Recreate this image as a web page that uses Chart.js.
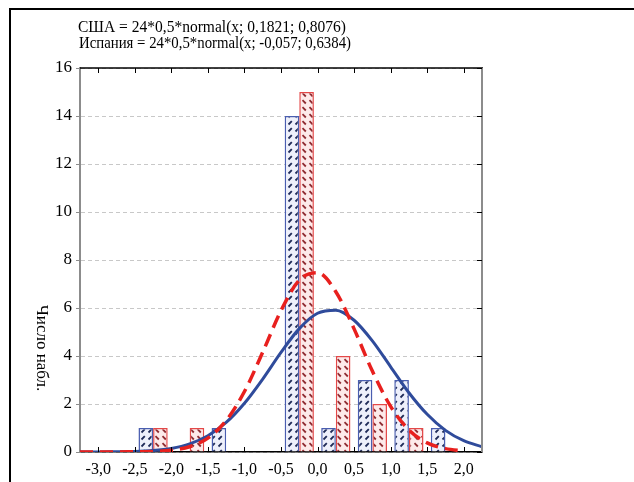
<!DOCTYPE html>
<html>
<head>
<meta charset="utf-8">
<script src="https://cdn.jsdelivr.net/npm/chart.js@4.4.0/dist/chart.umd.min.js"></script>
<style>
  html, body { margin: 0; padding: 0; background: #fff; }
  #wrap { width: 634px; height: 482px; position: relative; }
</style>
</head>
<body>
<div id="wrap"><canvas id="grafica" width="634" height="482"></canvas></div>
<script>
// Гистограмма (центры интервалов) и число наблюдений
const centros = [-2.25, -1.75, -1.25, -0.75, -0.25, 0.25, 0.75, 1.25, 1.75];
const usaBarras = [1, 0, 1, 0, 14, 1, 3, 3, 1];
const espBarras = [1, 1, 0, 0, 15, 4, 2, 1, 0];

// Кривые
const curvaX = [-3.25, -3.0, -2.75, -2.5, -2.25, -2.0, -1.75, -1.5, -1.25, -1.0, -0.75, -0.5, -0.25, 0, 0.25, 0.5, 0.75, 1.0, 1.25, 1.5, 1.75, 2.0, 2.25];
const usaCurva = [0, 0, 0.01, 0.02, 0.06, 0.15, 0.34, 0.68, 1.23, 2.03, 3.04, 4.15, 5.14, 5.78, 5.91, 5.49, 4.63, 3.55, 2.47, 1.57, 0.9, 0.47, 0.22];
const espCurva = [0, 0, 0, 0.01, 0.02, 0.07, 0.22, 0.58, 1.31, 2.52, 4.16, 5.89, 7.16, 7.47, 6.68, 5.13, 3.37, 1.9, 0.92, 0.38, 0.14, 0.04, null];

const xTicks = [-3.0, -2.5, -2.0, -1.5, -1.0, -0.5, 0.0, 0.5, 1.0, 1.5, 2.0];
const titulo = ['США = 24*0,5*normal(x; 0,1821; 0,8076)', 'Испания = 24*0,5*normal(x; -0,057; 0,6384)'];
const ejeY = 'Число набл.';

const serif = "'Liberation Serif', 'Times New Roman', serif";

function rayado(fondo, tinta, dir) {
    const c = document.createElement('canvas');
    c.width = 7; c.height = 7;
    const g = c.getContext('2d');
    g.fillStyle = fondo;
    g.fillRect(0, 0, 7, 7);
    g.strokeStyle = tinta;
    g.lineWidth = 1.8;
    g.beginPath();
    if (dir > 0) { g.moveTo(1.5, 5.5); g.lineTo(4.8, 2.2); }
    else { g.moveTo(1.5, 2.2); g.lineTo(4.8, 5.5); }
    g.stroke();
    return g.createPattern(c, 'repeat');
}

const par = (xs, ys) => xs.map((x, i) => ({ x: x, y: ys[i] }));

// Рамка, засечки, заголовок и подпись оси
const extras = {
    id: 'extras',
    afterDraw(chart) {
        const ctx = chart.ctx;
        const a = chart.chartArea;
        const sx = chart.scales.x, sy = chart.scales.y;
        ctx.save();
        // внешняя рамка
        ctx.strokeStyle = '#000';
        ctx.lineWidth = 2;
        ctx.strokeRect(10, 9, 700, 600);
        // верхняя граница
        ctx.lineWidth = 1.5;
        ctx.beginPath();
        ctx.moveTo(a.left, a.top); ctx.lineTo(a.right + 1, a.top);
        ctx.stroke();
        // правая граница
        ctx.strokeStyle = '#8c8c8c';
        ctx.lineWidth = 2;
        ctx.beginPath();
        ctx.moveTo(a.right, a.top); ctx.lineTo(a.right, a.bottom);
        ctx.stroke();
        // засечки
        ctx.strokeStyle = '#000';
        ctx.lineWidth = 1;
        xTicks.forEach(v => {
            const px = Math.round(sx.getPixelForValue(v)) + 0.5;
            ctx.beginPath();
            ctx.moveTo(px, a.top); ctx.lineTo(px, a.top + 5);
            ctx.moveTo(px, a.bottom); ctx.lineTo(px, a.bottom - 5);
            ctx.stroke();
        });
        sy.ticks.forEach(t => {
            const py = Math.round(sy.getPixelForValue(t.value)) + 0.5;
            ctx.beginPath();
            ctx.moveTo(a.right, py); ctx.lineTo(a.right - 5, py);
            ctx.stroke();
        });
        // заголовок
        ctx.fillStyle = '#000';
        ctx.font = '16px ' + serif;
        ctx.textAlign = 'center';
        ctx.textBaseline = 'alphabetic';
        ctx.fillText(titulo[0], 212, 32, 268);
        ctx.fillText(titulo[1], 215, 48, 272);
        // подпись оси Y
        ctx.font = '17px ' + serif;
        ctx.translate(41, 348);
        ctx.rotate(Math.PI / 2);
        ctx.textBaseline = 'middle';
        ctx.fillText(ejeY, 0, 0);
        ctx.restore();
    }
};

const ctx = document.getElementById('grafica').getContext('2d');

new Chart(ctx, {
    type: 'bar',
    data: {
        datasets: [
            {
                label: 'США',
                data: par(centros, usaBarras),
                backgroundColor: rayado('#eef0fb', '#1f2b58', 1),
                borderColor: '#4a5eb0',
                borderWidth: 1.5,
                categoryPercentage: 0.8,
                barPercentage: 1.0,
                order: 3
            },
            {
                label: 'Испания',
                data: par(centros, espBarras),
                backgroundColor: rayado('#fdeaea', '#8e2a30', -1),
                borderColor: '#e44848',
                borderWidth: 1.5,
                categoryPercentage: 0.8,
                barPercentage: 1.0,
                order: 3
            },
            {
                type: 'line',
                label: 'США normal',
                data: par(curvaX, usaCurva),
                borderColor: '#2f4b9b',
                borderWidth: 3,
                pointRadius: 0,
                cubicInterpolationMode: 'monotone',
                fill: false,
                order: 2
            },
            {
                type: 'line',
                label: 'Испания normal',
                data: par(curvaX, espCurva),
                borderColor: '#e8201e',
                borderWidth: 3.5,
                borderDash: [13, 7],
                pointRadius: 0,
                cubicInterpolationMode: 'monotone',
                fill: false,
                order: 1
            }
        ]
    },
    options: {
        responsive: false,
        animation: false,
        layout: { padding: { left: 40, right: 152, top: 68, bottom: 0 } },
        plugins: {
            legend: { display: false },
            tooltip: { enabled: false },
            title: { display: false }
        },
        scales: {
            x: {
                type: 'linear',
                min: -3.25,
                max: 2.25,
                offset: false,
                afterBuildTicks: s => { s.ticks = xTicks.map(v => ({ value: v })); },
                afterFit: s => { s.height = 30; },
                grid: { display: true, drawOnChartArea: false, drawTicks: false, offset: false },
                border: { color: '#000', width: 1.5 },
                ticks: {
                    color: '#000',
                    padding: 8,
                    maxRotation: 0,
                    autoSkip: false,
                    font: { family: serif, size: 16 },
                    callback: v => v.toFixed(1).replace('.', ',')
                }
            },
            y: {
                min: 0,
                max: 16,
                afterFit: s => { s.width = 40; },
                grid: { color: '#c8c8c8', tickLength: 4, tickColor: '#8c8c8c' },
                border: { color: '#8c8c8c', width: 2, dash: [4, 3] },
                ticks: {
                    stepSize: 2,
                    color: '#000',
                    padding: 4,
                    font: { family: serif, size: 17 }
                }
            }
        }
    },
    plugins: [extras]
});
</script>
</body>
</html>
